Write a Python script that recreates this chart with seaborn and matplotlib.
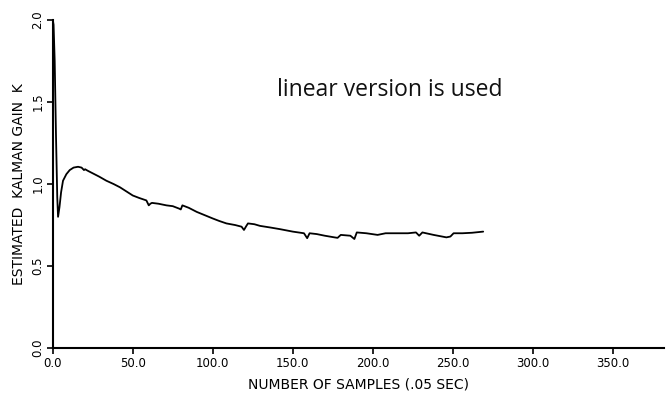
import numpy as np
import pandas as pd
import matplotlib
matplotlib.use("Agg")
import matplotlib.pyplot as plt
import seaborn as sns

sns.set_style("white")
plt.rcParams['font.family'] = ['DejaVu Sans']

# Estimated Kalman gain
samples = [0, 0.5, 1.2, 2.0, 2.8, 3.3, 4.2, 5.2, 6.4, 8.5, 10.6, 13, 15.8, 18, 19.5, 20.2, 22,
           25, 29, 33.5, 38, 42, 46, 50, 54, 58.5, 60, 61, 62, 66, 71, 75, 79, 80, 81,
           85, 90, 95, 100, 104, 108.5, 114, 118, 119.5, 121, 122, 126, 129.5, 136, 142,
           150, 157, 159, 160.5, 165, 170, 176, 178, 180, 186, 188.5, 190, 196, 203, 208,
           215, 222, 227, 229, 231, 238, 246, 248.5, 250.5, 256, 262, 269]
gain = [2.0, 1.97, 1.75, 1.3, 0.92, 0.80, 0.86, 0.95, 1.02, 1.06, 1.085, 1.10, 1.105, 1.10, 1.085, 1.09, 1.08,
        1.065, 1.045, 1.02, 1.0, 0.98, 0.955, 0.93, 0.915, 0.90, 0.87, 0.88, 0.885, 0.88, 0.87, 0.865, 0.85, 0.845, 0.87,
        0.855, 0.83, 0.81, 0.79, 0.775, 0.76, 0.75, 0.74, 0.72, 0.745, 0.76, 0.755, 0.745, 0.735, 0.725,
        0.71, 0.70, 0.67, 0.70, 0.695, 0.685, 0.675, 0.672, 0.69, 0.685, 0.665, 0.705,
        0.70, 0.69, 0.70, 0.70, 0.70, 0.705, 0.685, 0.705, 0.69, 0.675, 0.68, 0.70, 0.70, 0.703, 0.71]

x_ticks = [0, 50, 100, 150, 200, 250, 300, 350]
y_ticks = [0.0, 0.5, 1.0, 1.5, 2.0]

df = pd.DataFrame({"samples": samples, "gain": gain})

fig = plt.figure(figsize=(6.68, 3.97), dpi=100)
ax = fig.add_axes([0.079, 0.123, 0.915, 0.827])

sns.lineplot(data=df, x="samples", y="gain", ax=ax, color="black", linewidth=1.3,
             sort=False, estimator=None)

ax.set_xlim(0, 382)
ax.set_ylim(0, 2.0)
ax.set_xticks(x_ticks)
ax.set_xticklabels([f"{v:.1f}" for v in x_ticks], fontsize=8.5)
ax.set_yticks(y_ticks)
ax.set_yticklabels([f"{v:.1f}" for v in y_ticks], fontsize=8.5, rotation=90, va="center")
ax.tick_params(axis="both", which="major", bottom=True, left=True, direction="out",
               length=4, width=1.2, color="black", labelcolor="black", pad=2)

for side in ["top", "right"]:
    ax.spines[side].set_visible(False)
for side in ["left", "bottom"]:
    ax.spines[side].set_color("black")
    ax.spines[side].set_linewidth(1.5)

ax.set_xlabel("NUMBER OF SAMPLES (.05 SEC)", fontsize=10, labelpad=6, color="black")
ax.set_ylabel("ESTIMATED  KALMAN GAIN  K", fontsize=10, labelpad=4, color="black")

ax.text(0.367, 0.785, "linear version is used", transform=ax.transAxes,
        fontsize=16.5, family="Open Sans", color="#111111", va="center")

plt.savefig("out.png", dpi=100)
